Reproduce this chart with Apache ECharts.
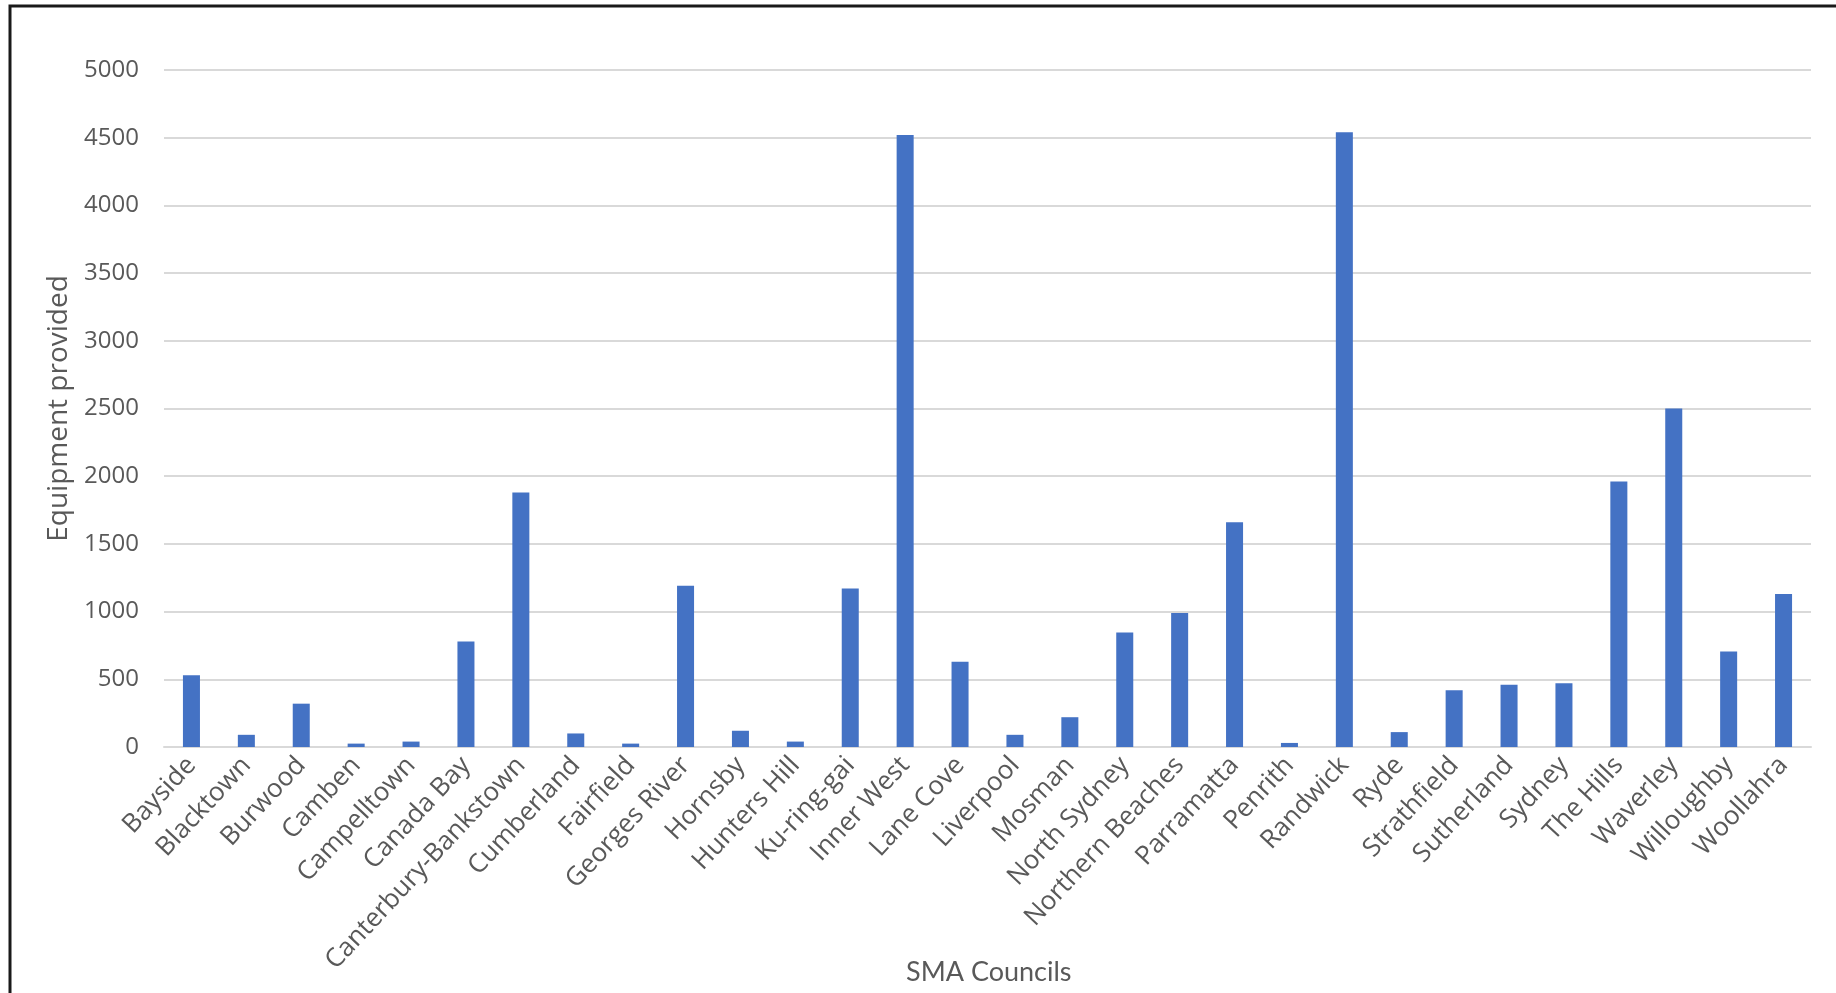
<!DOCTYPE html>
<html>
<head>
<meta charset="utf-8">
<title>Equipment provided by SMA Councils</title>
<script src="https://cdn.jsdelivr.net/npm/echarts@6/dist/echarts.min.js"></script>
<style>
  html, body { margin: 0; padding: 0; background: #ffffff; }
  #chart { width: 1836px; height: 993px; }
</style>
</head>
<body>
<div id="chart"></div>
<script>
// Councils along the x axis
const councils = [
  'Bayside', 'Blacktown', 'Burwood', 'Camben', 'Campelltown', 'Canada Bay',
  'Canterbury-Bankstown', 'Cumberland', 'Fairfield', 'Georges River', 'Hornsby',
  'Hunters Hill', 'Ku-ring-gai', 'Inner West', 'Lane Cove', 'Liverpool', 'Mosman',
  'North Sydney', 'Northern Beaches', 'Parramatta', 'Penrith', 'Randwick', 'Ryde',
  'Strathfield', 'Sutherland', 'Sydney', 'The Hills', 'Waverley', 'Willoughby',
  'Woollahra'
];

// Equipment provided per council
const equipment = [
  530, 90, 320, 25, 40, 780,
  1880, 100, 25, 1190, 120,
  40, 1170, 4520, 630, 90, 220,
  845, 990, 1660, 30, 4540, 110,
  420, 460, 470, 1960, 2500, 705,
  1130
];

// Value axis range
const yMin = 0;
const yMax = 5000;
const yStep = 500;

const chart = echarts.init(document.getElementById('chart'), null, { renderer: 'canvas' });

const labelGray = '#595959';
const gridGray = '#d9d9d9';

chart.setOption({
  animation: false,
  backgroundColor: '#ffffff',
  grid: {
    left: 164, right: 25, top: 70, bottom: 246,
    containLabel: false,
    outerBoundsMode: 'none'
  },
  xAxis: {
    type: 'category',
    data: councils,
    axisLine: { show: true, lineStyle: { color: gridGray, width: 2 } },
    axisTick: { show: false },
    axisLabel: {
      interval: 0,
      rotate: 47,
      margin: 14,
      color: labelGray,
      fontFamily: 'Open Sans',
      fontSize: 26
    }
  },
  yAxis: {
    type: 'value',
    min: yMin,
    max: yMax,
    interval: yStep,
    name: 'Equipment provided',
    nameLocation: 'middle',
    nameGap: 90,
    nameTextStyle: { color: labelGray, fontFamily: 'Open Sans', fontSize: 28 },
    axisLine: { show: false },
    axisTick: { show: false },
    axisLabel: {
      margin: 25,
      color: labelGray,
      fontFamily: 'Open Sans',
      fontSize: 24,
      formatter: (v) => String(v)
    },
    splitLine: { show: true, lineStyle: { color: gridGray, width: 2 } }
  },
  series: [{
    type: 'bar',
    data: equipment,
    barWidth: '31%',
    itemStyle: { color: '#4472c4' }
  }],
  graphic: [
    {
      // category axis title, centred under the plot area
      type: 'text',
      left: 987 - 81,
      top: 971 - 12,
      style: {
        text: 'SMA Councils',
        fill: labelGray,
        fontFamily: 'Lato',
        fontSize: 27
      },
      silent: true
    },
    {
      type: 'rect',
      shape: { x: 10, y: 6, width: 1900, height: 1100 },
      style: { fill: null, stroke: '#1a1a1a', lineWidth: 3 },
      silent: true
    }
  ]
});
</script>
</body>
</html>
